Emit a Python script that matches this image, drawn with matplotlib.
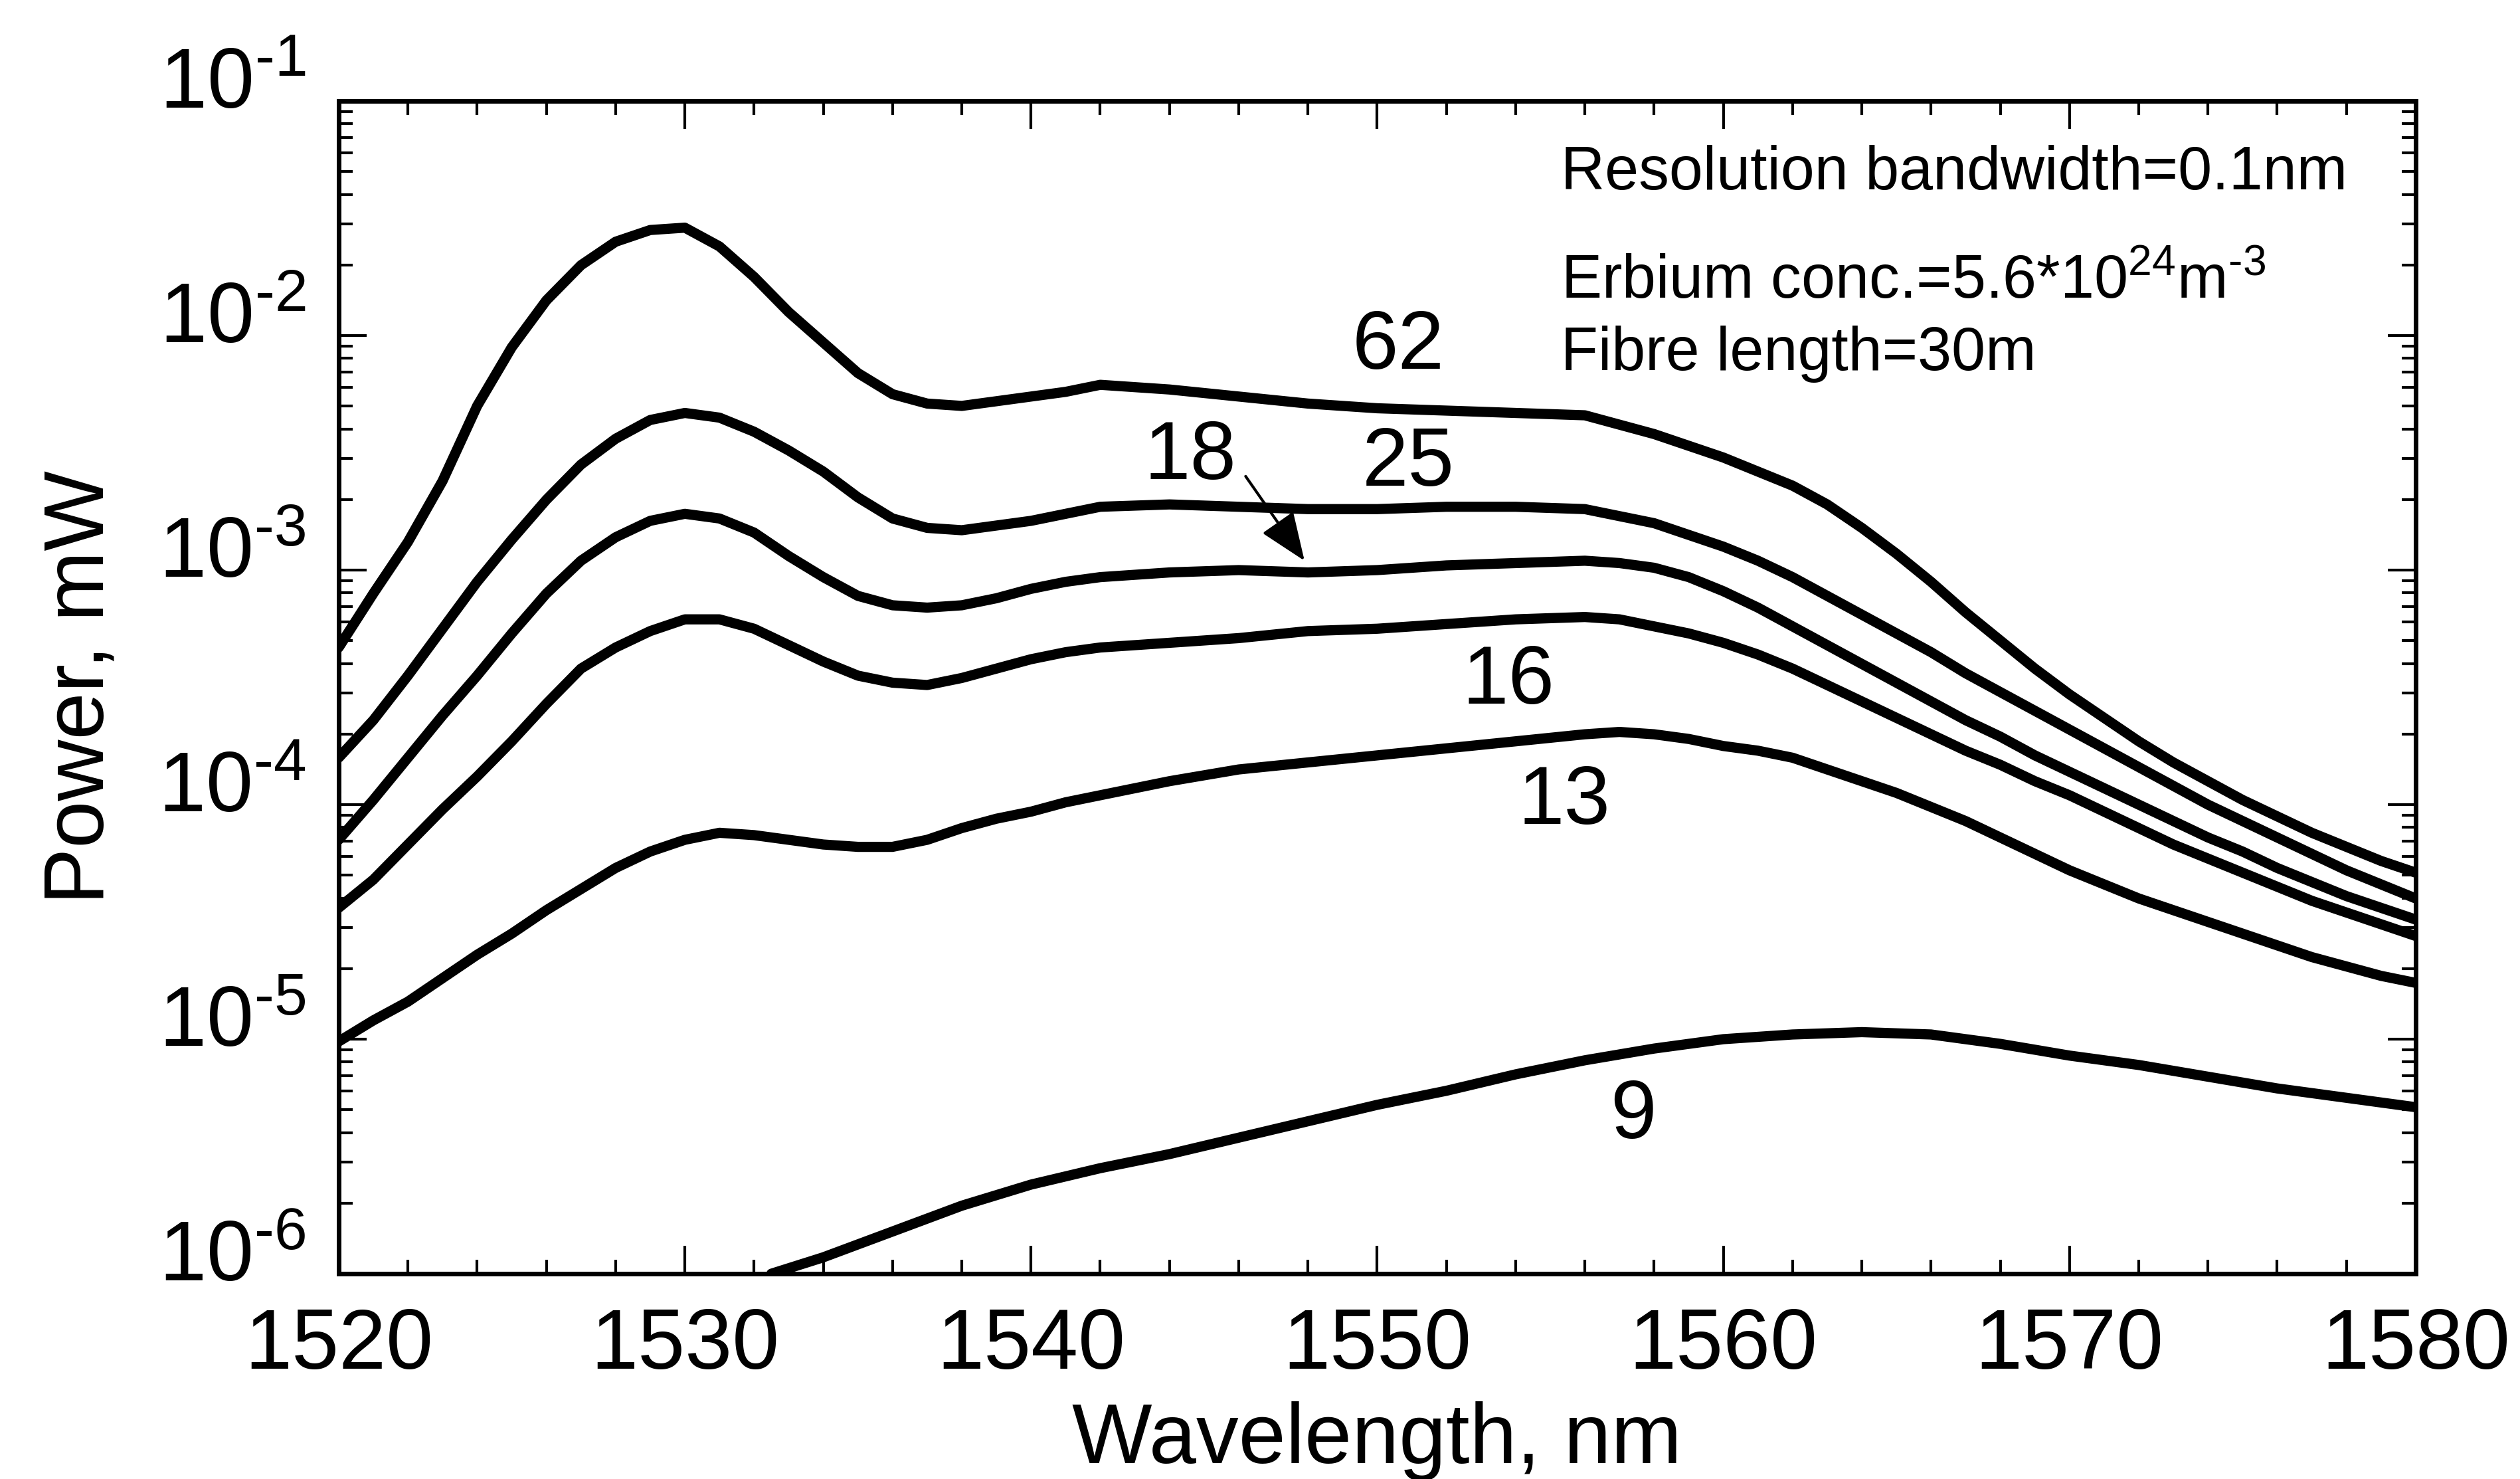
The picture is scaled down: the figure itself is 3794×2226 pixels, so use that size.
import matplotlib
matplotlib.use("Agg")
import matplotlib.pyplot as plt
from matplotlib.ticker import MultipleLocator, LogLocator, NullFormatter, FuncFormatter
from matplotlib.transforms import ScaledTranslation
import math

plt.rcParams['font.family'] = ['Liberation Sans', 'DejaVu Sans']
plt.rcParams['mathtext.fontset'] = 'custom'
plt.rcParams['mathtext.rm'] = 'Liberation Sans'
plt.rcParams['mathtext.it'] = 'Liberation Sans'
plt.rcParams['mathtext.bf'] = 'Liberation Sans:bold'

# pump power labels (mW) and spectra (log10 of power in mW)
labels = ["62", "25", "18", "16", "13", "9"]

wl = [1520, 1521, 1522, 1523, 1524, 1525, 1526, 1527, 1528, 1529, 1530, 1531,
      1532, 1533, 1534, 1535, 1536, 1537, 1538, 1539, 1540, 1541, 1542, 1544,
      1546, 1548, 1550, 1552, 1554, 1556, 1557, 1558, 1559, 1560, 1561, 1562,
      1563, 1564, 1565, 1566, 1567, 1568, 1569, 1570, 1571, 1572, 1573, 1574,
      1575, 1576, 1577, 1578, 1579, 1580]

p62 = [-3.33, -3.10, -2.88, -2.62, -2.30, -2.05, -1.85, -1.70, -1.60, -1.55, -1.54, -1.62,
       -1.75, -1.90, -2.03, -2.16, -2.25, -2.29, -2.30, -2.28, -2.26, -2.24, -2.21, -2.23,
       -2.26, -2.29, -2.31, -2.32, -2.33, -2.34, -2.38, -2.42, -2.47, -2.52, -2.58, -2.64,
       -2.72, -2.82, -2.93, -3.05, -3.18, -3.30, -3.42, -3.53, -3.63, -3.73, -3.82, -3.90,
       -3.98, -4.05, -4.12, -4.18, -4.24, -4.29]

p25 = [-3.80, -3.64, -3.45, -3.25, -3.05, -2.87, -2.70, -2.55, -2.44, -2.36, -2.33, -2.35,
       -2.41, -2.49, -2.58, -2.69, -2.78, -2.82, -2.83, -2.81, -2.79, -2.76, -2.73, -2.72,
       -2.73, -2.74, -2.74, -2.73, -2.73, -2.74, -2.77, -2.80, -2.85, -2.90, -2.96, -3.03,
       -3.11, -3.19, -3.27, -3.35, -3.44, -3.52, -3.60, -3.68, -3.76, -3.84, -3.92, -4.00,
       -4.07, -4.14, -4.21, -4.28, -4.34, -4.40]

p18 = [-4.15, -3.98, -3.80, -3.62, -3.45, -3.27, -3.10, -2.96, -2.86, -2.79, -2.76, -2.78,
       -2.84, -2.94, -3.03, -3.11, -3.15, -3.16, -3.15, -3.12, -3.08, -3.05, -3.03, -3.01,
       -3.00, -3.01, -3.00, -2.98, -2.97, -2.96, -2.97, -2.99, -3.03, -3.09, -3.16, -3.24,
       -3.32, -3.40, -3.48, -3.56, -3.64, -3.71, -3.79, -3.86, -3.93, -4.00, -4.07, -4.14,
       -4.20, -4.27, -4.33, -4.39, -4.44, -4.49]

p16 = [-4.44, -4.32, -4.17, -4.02, -3.88, -3.73, -3.57, -3.42, -3.33, -3.26, -3.21, -3.21,
       -3.25, -3.32, -3.39, -3.45, -3.48, -3.49, -3.46, -3.42, -3.38, -3.35, -3.33, -3.31,
       -3.29, -3.26, -3.25, -3.23, -3.21, -3.20, -3.21, -3.24, -3.27, -3.31, -3.36, -3.42,
       -3.49, -3.56, -3.63, -3.70, -3.77, -3.83, -3.90, -3.96, -4.03, -4.10, -4.17, -4.23,
       -4.29, -4.35, -4.41, -4.46, -4.51, -4.56]

p13 = [-5.01, -4.92, -4.84, -4.74, -4.64, -4.55, -4.45, -4.36, -4.27, -4.20, -4.15, -4.12,
       -4.13, -4.15, -4.17, -4.18, -4.18, -4.15, -4.10, -4.06, -4.03, -3.99, -3.96, -3.90,
       -3.85, -3.82, -3.79, -3.76, -3.73, -3.70, -3.69, -3.70, -3.72, -3.75, -3.77, -3.80,
       -3.85, -3.90, -3.95, -4.01, -4.07, -4.14, -4.21, -4.28, -4.34, -4.40, -4.45, -4.50,
       -4.55, -4.60, -4.65, -4.69, -4.73, -4.76]

wl9 = [1532.5, 1534, 1536, 1538, 1540, 1542, 1544, 1546, 1548, 1550, 1552, 1554, 1556,
       1558, 1560, 1562, 1564, 1566, 1568, 1570, 1572, 1574, 1576, 1578, 1580]
p9 = [-6.00, -5.93, -5.82, -5.71, -5.62, -5.55, -5.49, -5.42, -5.35, -5.28, -5.22, -5.15,
      -5.09, -5.04, -5.00, -4.98, -4.97, -4.98, -5.02, -5.07, -5.11, -5.16, -5.21, -5.25, -5.29]

# label positions (wavelength, log10 power)
label_x = [1550.6, 1550.9, 1544.6, 1553.8, 1555.4, 1557.4]
label_y = [-2.05, -2.55, -2.52, -3.48, -3.99, -5.33]

fig = plt.figure(figsize=(18.97, 11.13), dpi=200)
ax = fig.add_axes([0.1344, 0.1388, 0.8242, 0.7929])

series = [(wl, p62), (wl, p25), (wl, p18), (wl, p16), (wl, p13), (wl9, p9)]
for x, lp in series:
    ax.plot(x, [10 ** v for v in lp], color='black', lw=5.5, solid_capstyle='round',
            solid_joinstyle='round')

for t, x, y in zip(labels, label_x, label_y):
    ax.text(x, 10 ** y, t, fontsize=45, ha='center', va='center')

# arrow from "18" to its curve
ax.annotate('', xy=(1547.9, 10 ** -2.96), xytext=(1546.2, 10 ** -2.60),
            arrowprops=dict(arrowstyle='-|>,head_length=0.5,head_width=0.2', color='black', lw=1.5,
                            mutation_scale=45, shrinkA=0, shrinkB=0))

ax.text(1555.3, 10 ** -1.31, 'Resolution bandwidth=0.1nm', fontsize=33, va='center')
ax.text(1555.3, 10 ** -1.77, r'Erbium conc.=5.6*10$^{24}$m$^{\text{-}3}$', fontsize=33, va='center')
ax.text(1555.3, 10 ** -2.08, 'Fibre length=30m', fontsize=33, va='center')

ax.set_yscale('log')
ax.set_xlim(1520, 1580)
ax.set_ylim(1e-6, 1e-1)
ax.xaxis.set_major_locator(MultipleLocator(10))
ax.xaxis.set_minor_locator(MultipleLocator(2))
ax.yaxis.set_major_locator(LogLocator(base=10, numticks=10))
ax.yaxis.set_minor_locator(LogLocator(base=10, subs=range(2, 10), numticks=10))
ax.yaxis.set_major_formatter(FuncFormatter(
    lambda v, p: r'$10^{\text{-}%d}$' % round(-math.log10(v))))
ax.yaxis.set_minor_formatter(NullFormatter())

ax.tick_params(which='both', direction='in', top=True, right=True, width=1.5)
ax.tick_params(which='major', length=15, labelsize=46, pad=18)
ax.tick_params(which='minor', length=7.5)
for s in ax.spines.values():
    s.set_linewidth(2.5)

ax.set_xlabel('Wavelength, nm', fontsize=46, labelpad=8)
ax.set_ylabel('Power, mW', fontsize=46, labelpad=20)

for lab in ax.get_yticklabels():
    lab.set_transform(lab.get_transform() + ScaledTranslation(0, 0.18, fig.dpi_scale_trans))

fig.savefig('out.png', dpi=200)
